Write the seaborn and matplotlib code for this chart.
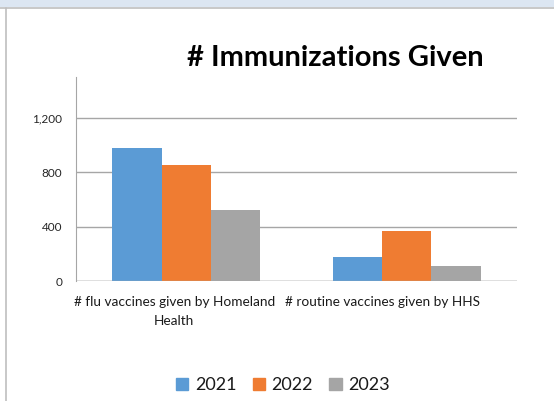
import matplotlib
matplotlib.use("Agg")
import matplotlib.pyplot as plt
import matplotlib.patches as mpatches
import matplotlib.transforms as mtransforms
import seaborn as sns
import pandas as pd

# data
categories = ["# flu vaccines given by Homeland\nHealth",
              "# routine vaccines given by HHS"]
years = ["2021", "2022", "2023"]
values_2021 = [980, 177]
values_2022 = [855, 368]
values_2023 = [523, 110]
year_colors = ["#5b9bd5", "#ef7c32", "#a5a5a5"]

df = pd.DataFrame({
    "category": categories * 3,
    "year": [y for y in years for _ in categories],
    "count": values_2021 + values_2022 + values_2023,
})

sns.set_style("white")
plt.rcParams["font.family"] = ["Lato", "DejaVu Sans"]

fig = plt.figure(figsize=(5.54, 4.01), dpi=100)
ax = fig.add_axes([76 / 554, 1 - 281 / 401, (517 - 76) / 554, (281 - 77) / 401])

sns.barplot(data=df, x="category", y="count", hue="year",
            palette=year_colors, width=0.67, saturation=1, linewidth=0,
            ax=ax, legend=False)

ax.set_ylim(0, 1500)
ax.set_yticks([0, 400, 800, 1200])
ax.set_yticklabels(["0", "400", "800", "1,200"], fontsize=8.5, color="#262626")
ax.yaxis.grid(True, color="#a6a6a6", linewidth=1)
ax.set_axisbelow(True)
ax.tick_params(length=0, pad=10)
ax.tick_params(axis="x", pad=11)
# excel-style label placement, nudged left
for lbl, dx in zip(ax.get_xticklabels(), [-12, -24]):
    lbl.set_fontsize(9.8)
    lbl.set_color("#1a1a1a")
    lbl.set_linespacing(1.65)
    lbl.set_transform(lbl.get_transform() +
                      mtransforms.ScaledTranslation(dx / 100, 0, fig.dpi_scale_trans))
ax.set_xlabel("")
ax.set_ylabel("")
for side in ["top", "right", "bottom"]:
    ax.spines[side].set_visible(False)
ax.spines["left"].set_color("#a6a6a6")
ax.axhline(0, color="#a6a6a6", linewidth=1)

fig.text(335 / 554, 1 - 58 / 401, "# Immunizations Given", ha="center", va="center",
         fontsize=21, fontweight="bold", color="black")

handles = [mpatches.Patch(color=c, label=y) for c, y in zip(year_colors, years)]
fig.legend(handles=handles, loc="center", bbox_to_anchor=(283 / 554, 1 - 385 / 401),
           ncol=3, frameon=False, fontsize=13, handlelength=0.67, handleheight=0.67,
           handletextpad=0.38, columnspacing=0.9, labelcolor="#1a1a1a")

# outer frame: light band on top, grey edge lines
fig.patches.append(mpatches.Rectangle((0, 1 - 7 / 401), 1, 7 / 401, transform=fig.transFigure,
                                      facecolor="#dce6f2", edgecolor="none"))
fig.lines.append(plt.Line2D([0, 1], [1 - 8 / 401] * 2, transform=fig.transFigure,
                            color="#bfbfbf", linewidth=1.2))
fig.lines.append(plt.Line2D([6 / 554] * 2, [0, 1 - 8 / 401], transform=fig.transFigure,
                            color="#bfbfbf", linewidth=1.2))

fig.savefig("out.png", dpi=100)
